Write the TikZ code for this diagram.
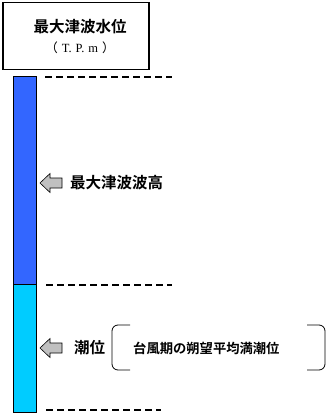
\documentclass[tikz,border=0pt]{standalone}
\usepackage{fontspec}
\setmainfont{Liberation Serif}
\newfontfamily\jfont{Noto Sans CJK JP}[BoldFont={Noto Sans CJK JP Bold}]
\definecolor{tsunamiblue}{HTML}{3366FF}
\definecolor{choicyan}{HTML}{00CCFF}
\definecolor{yajigray}{HTML}{C0C0C0}
\begin{document}
\begin{tikzpicture}[x=1pt,y=-1pt]
\tikzset{hakobox/.style={draw, line width=1.5pt, minimum width=146pt, minimum height=67pt, inner sep=0pt}}
\tikzset{midashi/.style={inner sep=0pt, font=\jfont\fontsize{15.5}{18}\selectfont\bfseries}}
\tikzset{tensen/.style={line width=2pt, dash pattern=on 7pt off 4pt}}
\tikzset{yajirushi/.style={draw, fill=yajigray, line width=0.6pt, line join=miter}}
\tikzset{kakko/.style={line width=0.8pt, rounded corners=6pt}}
\useasboundingbox (0,0) rectangle (334,417);
% title box
\node[hakobox] (hako) at (76,36) {};
\node[midashi] (suii) at (80,27) {最大津波水位};
\node[inner sep=0pt, font=\fontsize{12.5}{14}\selectfont] (tpm) at (80,48)
  {{\jfont （}\hspace{4pt}T.\hspace{4pt}P.\hspace{4pt}m\hspace{4pt}{\jfont ）}};
% bar
\draw[fill=tsunamiblue, line width=0.6pt] (13,76) rectangle (36,284);
\draw[fill=choicyan, line width=0.6pt] (13,284) rectangle (36,412);
% dashed levels
\coordinate (d1a) at (45,77);  \coordinate (d1b) at (172,77);
\coordinate (d2a) at (46,285); \coordinate (d2b) at (172,285);
\coordinate (d3a) at (46,410); \coordinate (d3b) at (161,410);
\draw[tensen] (d1a) -- (d1b);
\draw[tensen] (d2a) -- (d2b);
\draw[tensen] (d3a) -- (d3b);
% arrows
\coordinate (ya1) at (40,183);
\coordinate (ya2) at (40,348);
\draw[yajirushi] (ya1) -- ++(10,-9.5) -- ++(0,4.5) -- ++(12,0) -- ++(0,10) -- ++(-12,0) -- ++(0,4.5) -- cycle;
\draw[yajirushi] (ya2) -- ++(10,-9.5) -- ++(0,4.5) -- ++(12,0) -- ++(0,10) -- ++(-12,0) -- ++(0,4.5) -- cycle;
\node[midashi, anchor=west] (hako1) at (70,183) {最大津波波高};
\node[midashi, anchor=west] (choui) at (74,348) {潮位};
% bracket
\node[inner sep=0pt, anchor=west, font=\jfont\fontsize{13.3}{16}\selectfont\bfseries] (saku) at (133,348) {台風期の朔望平均満潮位};
\draw[kakko] (130,325) -- (112,325) -- (112,370) -- (130,370);
\draw[kakko] (307,325) -- (325,325) -- (325,370) -- (307,370);
\end{tikzpicture}
\end{document}
